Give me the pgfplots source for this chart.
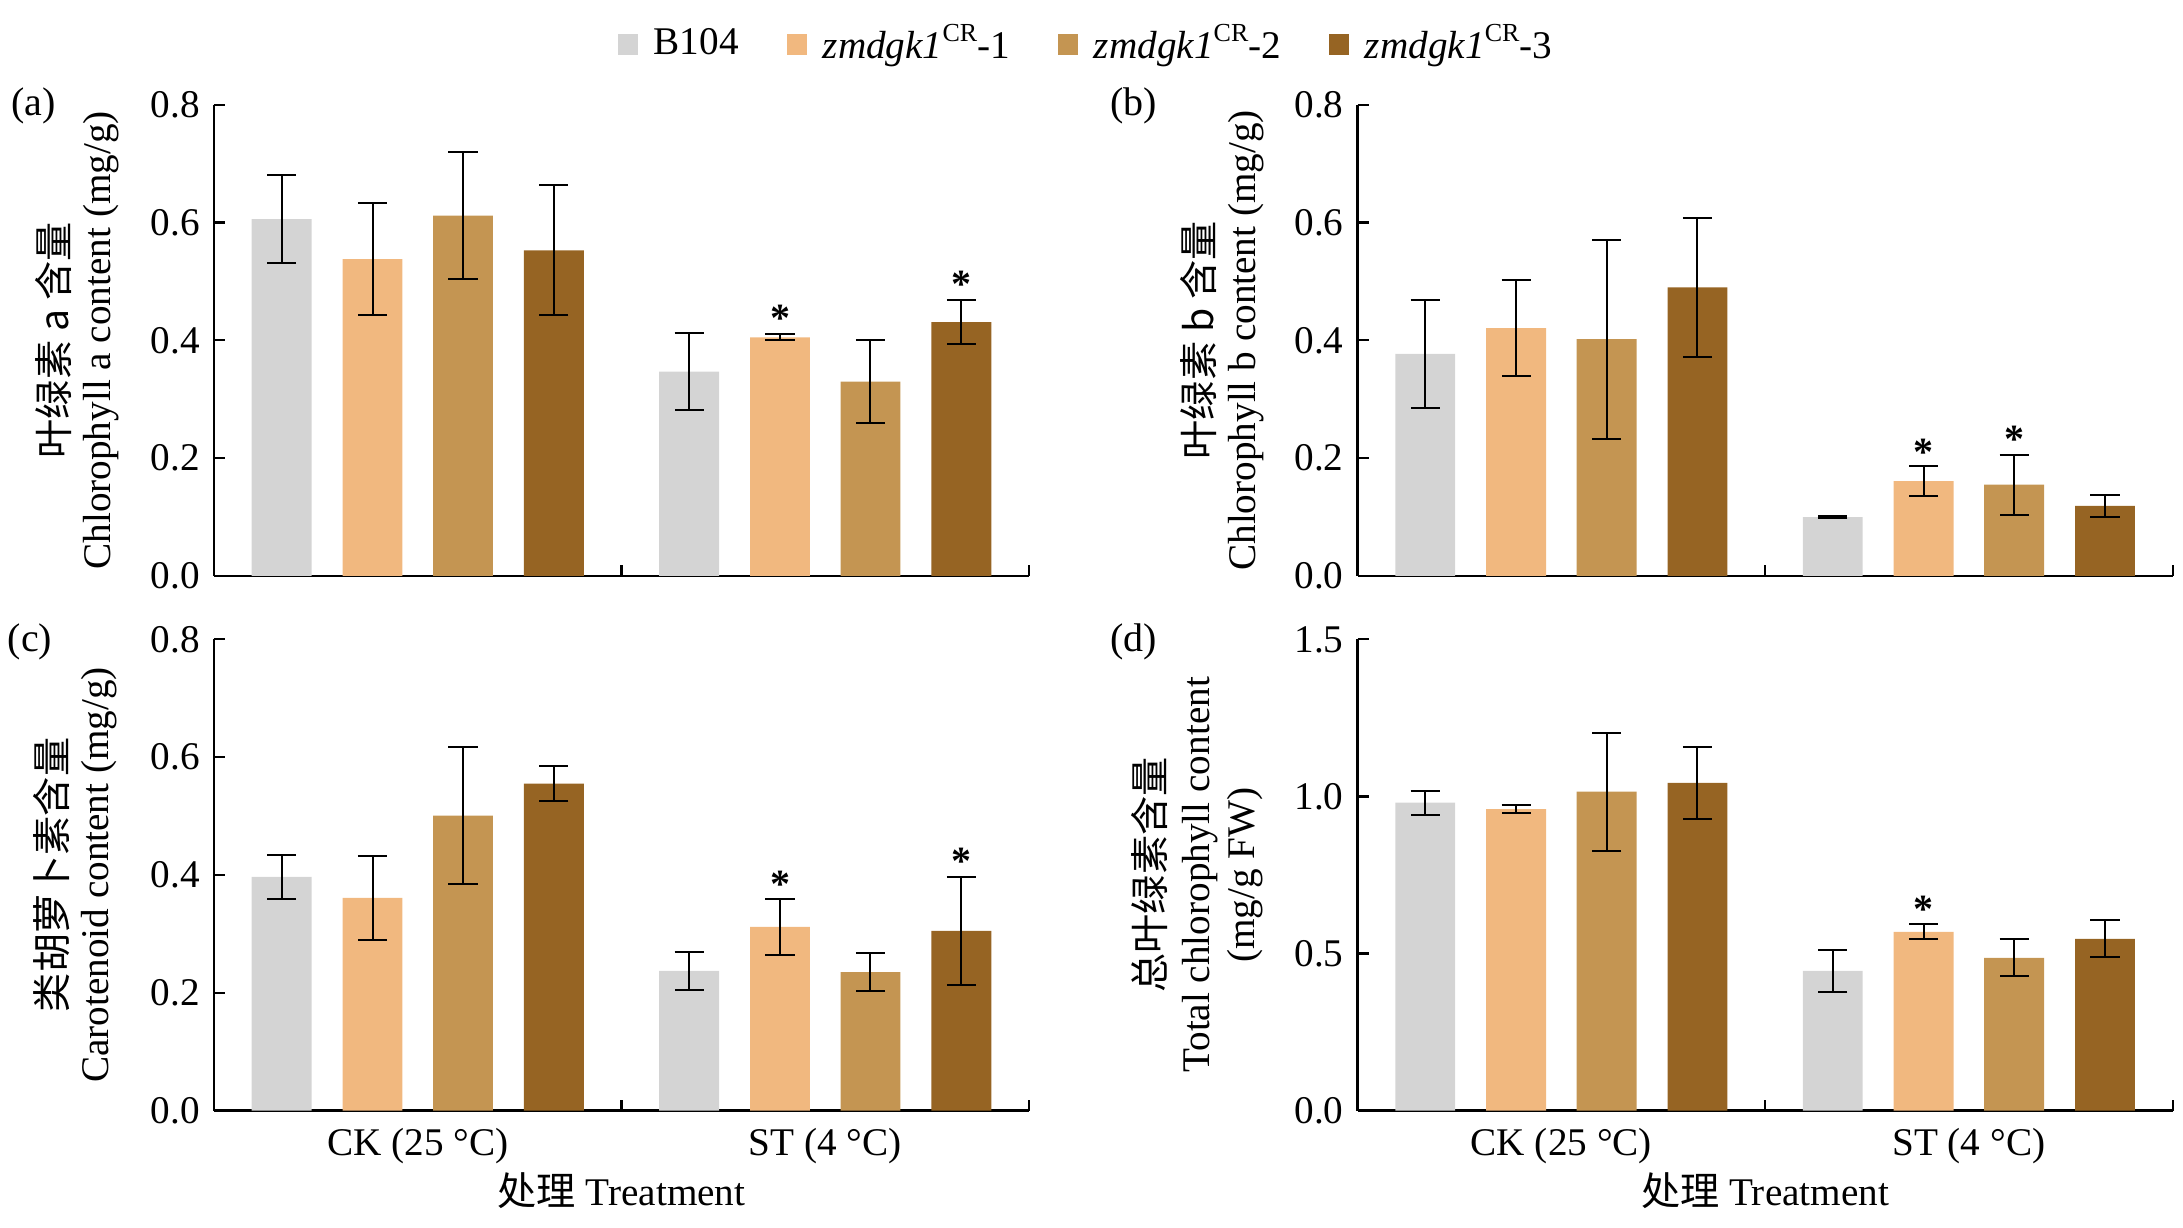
\documentclass[border=0pt]{standalone}
\usepackage{fontspec}
\setmainfont{Liberation Serif}
\newfontfamily\cjk{Noto Sans CJK SC}
\usepackage{pgfplots}
\pgfplotsset{compat=1.18}
\definecolor{cA}{RGB}{212,212,212}
\definecolor{cB}{RGB}{241,184,127}
\definecolor{cC}{RGB}{196,149,82}
\definecolor{cD}{RGB}{150,100,35}
\newcommand{\crsup}{\raisebox{0.9ex}{\fontsize{6.5}{6.5}\selectfont CR}}
\pgfplotsset{
  panel/.style={
    scale only axis, width=203.75pt, height=117.8pt,
    anchor=south west,
    axis x line*=bottom, axis y line*=left,
    axis line style={line width=0.65pt, black},
    xmin=0, xmax=2, ymin=0,
    xtick={1,2}, xticklabels={},
    tick align=inside, major tick length=2.75pt,
    tick style={line width=0.55pt, black},
    /pgf/number format/assume math mode=true,
    y tick label style={/pgf/number format/fixed, /pgf/number format/fixed zerofill, /pgf/number format/precision=1},
    tick label style={font=\fontsize{9.8}{10}\selectfont},
    ylabel style={anchor=center, align=center, font=\fontsize{9.8}{10.5}\selectfont},
    clip=false,
  },
  bars/.style={ybar, bar width=0.147, bar shift=0, draw=none, fill=#1,
    error bars/y dir=both, error bars/y explicit,
    error bars/error bar style={line width=0.5pt, black},
    error bars/error mark options={rotate=90, mark size=3.65pt, line width=0.5pt, black}},
  stars/.style={only marks, mark=none, forget plot, nodes near coords={\textbf{*}},
    nodes near coords style={anchor=base, inner sep=0pt, yshift=0.5pt, font=\fontsize{10}{10}\selectfont}},
  cats/.style={extra x ticks={0.5,1.5}, extra x tick labels={CK (25 °C), ST (4 °C)},
    extra x tick style={major tick length=0pt},
    xticklabel style={anchor=base, yshift=-11.25pt},
    xlabel={{\cjk 处理} Treatment},
    xlabel style={at={(axis description cs:0.5,0)}, anchor=center, yshift=-20pt, font=\fontsize{9.8}{10}\selectfont}},
}
\begin{document}
\begin{tikzpicture}
\path[use as bounding box] (0,0) rectangle (545.75pt,307pt);
% (a)
\begin{axis}[panel, at={(53.5pt,163pt)}, ymax=0.8, ytick={0,0.2,0.4,0.6,0.8},
  ylabel={{\cjk 叶绿素 a 含量}\\Chlorophyll a content (mg/g)},
  ylabel style={at={(axis description cs:-0.168,0.5)}},
  legend columns=4,
  legend style={at={(axis description cs:1.0736,1.128)}, anchor=center, draw=none, fill=none,
    font=\fontsize{9.8}{10}\selectfont,
    /tikz/every odd column/.append style={column sep=2pt},
    /tikz/every even column/.append style={column sep=10pt}},
  legend image code/.code={\fill[#1] (0pt,-2.6pt) rectangle (5pt,2.6pt);}]
\addplot[bars=cA] coordinates {(0.166,0.606) +- (0,0.074) (1.166,0.347) +- (0,0.065)};
\addlegendentry{B104}
\addplot[bars=cB] coordinates {(0.389,0.538) +- (0,0.095) (1.389,0.405) +- (0,0.005)};
\addlegendentry{\textit{zmdgk1}\crsup-1}
\addplot[bars=cC] coordinates {(0.611,0.612) +- (0,0.107) (1.611,0.330) +- (0,0.071)};
\addlegendentry{\textit{zmdgk1}\crsup-2}
\addplot[bars=cD] coordinates {(0.834,0.553) +- (0,0.110) (1.834,0.431) +- (0,0.037)};
\addlegendentry{\textit{zmdgk1}\crsup-3}
\addplot[stars] coordinates {(1.389,0.412) (1.834,0.469)};
\node[anchor=west, inner sep=0pt, font=\fontsize{10}{10}\selectfont] at (axis description cs:-0.25,0.997) {(a)};
\end{axis}
% (b)
\begin{axis}[panel, at={(339.4pt,163pt)}, ymax=0.8, ytick={0,0.2,0.4,0.6,0.8},
  ylabel={{\cjk 叶绿素 b 含量}\\Chlorophyll b content (mg/g)},
  ylabel style={at={(axis description cs:-0.1664,0.5)}}]
\addplot[bars=cA] coordinates {(0.166,0.377) +- (0,0.092) (1.166,0.100) +- (0,0.002)};
\addplot[bars=cB] coordinates {(0.389,0.421) +- (0,0.081) (1.389,0.161) +- (0,0.025)};
\addplot[bars=cC] coordinates {(0.611,0.402) +- (0,0.169) (1.611,0.155) +- (0,0.051)};
\addplot[bars=cD] coordinates {(0.834,0.490) +- (0,0.118) (1.834,0.119) +- (0,0.019)};
\addplot[stars] coordinates {(1.389,0.185) (1.611,0.207)};
\node[anchor=west, inner sep=0pt, font=\fontsize{10}{10}\selectfont] at (axis description cs:-0.304,0.997) {(b)};
\end{axis}
% (c)
\begin{axis}[panel, cats, at={(53.5pt,29.35pt)}, ymax=0.8, ytick={0,0.2,0.4,0.6,0.8},
  ylabel={{\cjk 类胡萝卜素含量}\\Carotenoid content (mg/g)},
  ylabel style={at={(axis description cs:-0.17,0.5)}}]
\addplot[bars=cA] coordinates {(0.166,0.397) +- (0,0.037) (1.166,0.237) +- (0,0.033)};
\addplot[bars=cB] coordinates {(0.389,0.361) +- (0,0.072) (1.389,0.312) +- (0,0.047)};
\addplot[bars=cC] coordinates {(0.611,0.501) +- (0,0.116) (1.611,0.235) +- (0,0.032)};
\addplot[bars=cD] coordinates {(0.834,0.555) +- (0,0.030) (1.834,0.305) +- (0,0.092)};
\addplot[stars] coordinates {(1.389,0.358) (1.834,0.397)};
\node[anchor=west, inner sep=0pt, font=\fontsize{10}{10}\selectfont] at (axis description cs:-0.254,0.995) {(c)};
\end{axis}
% (d)
\begin{axis}[panel, cats, at={(339.4pt,29.35pt)}, ymax=1.5, ytick={0,0.5,1,1.5},
  ylabel={{\cjk 总叶绿素含量}\\Total chlorophyll content\\(mg/g FW)},
  ylabel style={at={(axis description cs:-0.197,0.5)}, font=\fontsize{9.8}{11.2}\selectfont}]
\addplot[bars=cA] coordinates {(0.166,0.980) +- (0,0.038) (1.166,0.445) +- (0,0.067)};
\addplot[bars=cB] coordinates {(0.389,0.960) +- (0,0.013) (1.389,0.569) +- (0,0.024)};
\addplot[bars=cC] coordinates {(0.611,1.015) +- (0,0.188) (1.611,0.486) +- (0,0.059)};
\addplot[bars=cD] coordinates {(0.834,1.043) +- (0,0.114) (1.834,0.547) +- (0,0.059)};
\addplot[stars] coordinates {(1.389,0.592)};
\node[anchor=west, inner sep=0pt, font=\fontsize{10}{10}\selectfont] at (axis description cs:-0.304,0.995) {(d)};
\end{axis}
\end{tikzpicture}
\end{document}
